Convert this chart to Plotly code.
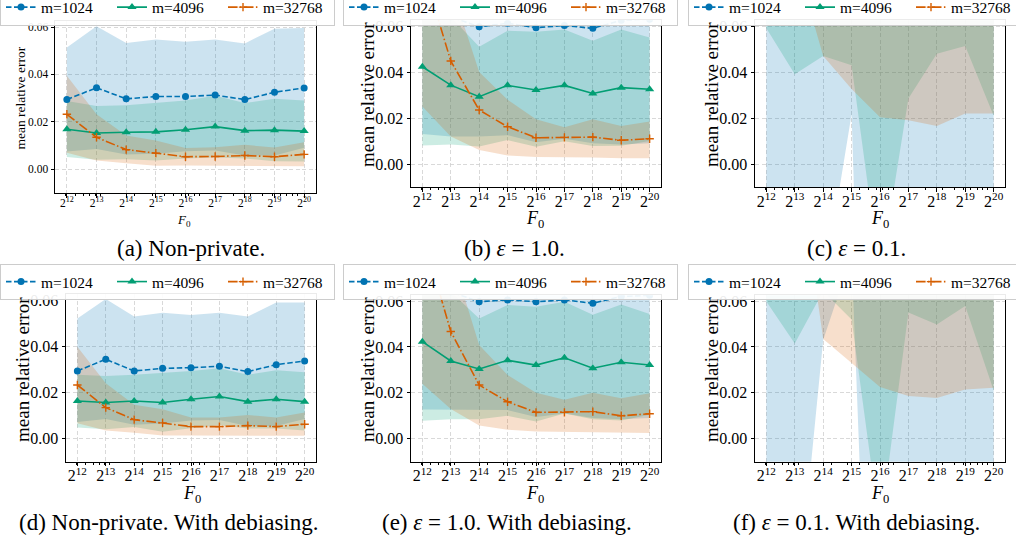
import plotly.graph_objects as go

W, H = 1016, 541
SERIF = "Liberation Serif"

# ---------------- data ----------------
F0 = [4096, 8192, 16384, 32768, 65536, 131072, 262144, 524288, 1048576]
F0_TICK_TEXT = ["2<sup>12</sup>", "2<sup>13</sup>", "2<sup>14</sup>", "2<sup>15</sup>",
                "2<sup>16</sup>", "2<sup>17</sup>", "2<sup>18</sup>", "2<sup>19</sup>",
                "2<sup>20</sup>"]
Y_TICKS = [0.0, 0.02, 0.04, 0.06]
Y_TICK_TEXT = ["0.00", "0.02", "0.04", "0.06"]
SERIES = ["m=1024", "m=4096", "m=32768"]
Y_TITLE = "mean relative error"
X_TITLE = "<i>F</i><sub>0</sub>"
CAPTIONS = ["(a) Non-private.", "(b) <i>ε</i> = 1.0.", "(c) <i>ε</i> = 0.1.",
            "(d) Non-private. With debiasing.", "(e) <i>ε</i> = 1.0. With debiasing.",
            "(f) <i>ε</i> = 0.1. With debiasing."]

# (a) Non-private
A_MEAN = [[0.0294, 0.0344, 0.0297, 0.0307, 0.0307, 0.0313, 0.0294, 0.0325, 0.0343],
          [0.0169, 0.0153, 0.0156, 0.0158, 0.0167, 0.0180, 0.0163, 0.0165, 0.0161],
          [0.0232, 0.0135, 0.0083, 0.0068, 0.0053, 0.0054, 0.0058, 0.0053, 0.0063]]
A_HI = [[0.0514, 0.0603, 0.0533, 0.0547, 0.0538, 0.0547, 0.0531, 0.0593, 0.0596],
        [0.0288, 0.0267, 0.0270, 0.0280, 0.0290, 0.0310, 0.0280, 0.0297, 0.0290],
        [0.0394, 0.0232, 0.0142, 0.0121, 0.0090, 0.0093, 0.0103, 0.0092, 0.0114]]
A_LO = [[0.0075, 0.0086, 0.0062, 0.0066, 0.0076, 0.0079, 0.0058, 0.0058, 0.0091],
        [0.0052, 0.0040, 0.0042, 0.0037, 0.0045, 0.0050, 0.0046, 0.0034, 0.0033],
        [0.0070, 0.0037, 0.0025, 0.0015, 0.0016, 0.0015, 0.0013, 0.0014, 0.0013]]

# (b) eps = 1.0
B_MEAN = [[0.0660, 0.0640, 0.0597, 0.0612, 0.0593, 0.0602, 0.0590, 0.0625, 0.0630],
          [0.0423, 0.0343, 0.0293, 0.0342, 0.0322, 0.0342, 0.0307, 0.0332, 0.0325],
          [0.0860, 0.0448, 0.0235, 0.0162, 0.0114, 0.0116, 0.0117, 0.0103, 0.0110]]
B_HI = [[0.120, 0.115, 0.105, 0.108, 0.105, 0.107, 0.104, 0.110, 0.110],
        [0.0770, 0.0640, 0.0510, 0.0580, 0.0575, 0.0585, 0.0536, 0.0585, 0.0550],
        [0.150, 0.0780, 0.0400, 0.0280, 0.0195, 0.0160, 0.0195, 0.0165, 0.0185]]
B_LO = [[0.0130, 0.0120, 0.0120, 0.0125, 0.0095, 0.0110, 0.0090, 0.0085, 0.0090],
        [0.0080, 0.0085, 0.0076, 0.0104, 0.0075, 0.0099, 0.0078, 0.0079, 0.0100],
        [0.0250, 0.0120, 0.0061, 0.0037, 0.0030, 0.0030, 0.0028, 0.0025, 0.0025]]

# (c) eps = 0.1 (means lie above the visible range)
C_MEAN = [[0.300, 0.280, 0.250, 0.220, 0.240, 0.220, 0.210, 0.230, 0.220],
          [0.120, 0.100, 0.095, 0.090, 0.085, 0.090, 0.088, 0.090, 0.085],
          [0.350, 0.200, 0.120, 0.100, 0.090, 0.085, 0.090, 0.095, 0.085]]
C_HI = [[0.850, 0.710, 0.550, 0.420, 0.850, 0.640, 0.570, 0.640, 0.600],
        [0.180, 0.160, 0.140, 0.137, 0.220, 0.150, 0.128, 0.129, 0.149],
        [0.550, 0.310, 0.190, 0.167, 0.160, 0.151, 0.164, 0.168, 0.148]]
C_LO = [[-0.250, -0.150, -0.054, 0.0216, -0.370, -0.200, -0.150, -0.180, -0.160],
        [0.0590, 0.0390, 0.0470, 0.0430, -0.0485, 0.0285, 0.0480, 0.0513, 0.0210],
        [0.150, 0.0900, 0.0470, 0.0326, 0.0203, 0.0190, 0.0165, 0.0220, 0.0220]]

# (d) Non-private, with debiasing
D_MEAN = [[0.0293, 0.0343, 0.0293, 0.0304, 0.0307, 0.0313, 0.0290, 0.0320, 0.0336],
          [0.0163, 0.0156, 0.0163, 0.0156, 0.0170, 0.0182, 0.0160, 0.0170, 0.0160],
          [0.0232, 0.0134, 0.0082, 0.0068, 0.0052, 0.0052, 0.0056, 0.0052, 0.0062]]
D_HI = [[0.0520, 0.0604, 0.0528, 0.0545, 0.0535, 0.0545, 0.0528, 0.0589, 0.0589],
        [0.0276, 0.0271, 0.0276, 0.0283, 0.0293, 0.0304, 0.0276, 0.0296, 0.0287],
        [0.0398, 0.0240, 0.0146, 0.0127, 0.0091, 0.0091, 0.0102, 0.0091, 0.0113]]
D_LO = [[0.0072, 0.0085, 0.0060, 0.0065, 0.0078, 0.0080, 0.0055, 0.0055, 0.0085],
        [0.0048, 0.0040, 0.0050, 0.0030, 0.0045, 0.0058, 0.0044, 0.0044, 0.0035],
        [0.0066, 0.0035, 0.0025, 0.0013, 0.0013, 0.0013, 0.0010, 0.0013, 0.0012]]

# (e) eps = 1.0, with debiasing
E_MEAN = [[0.0660, 0.0640, 0.0597, 0.0605, 0.0597, 0.0605, 0.0590, 0.0620, 0.0625],
          [0.0423, 0.0339, 0.0304, 0.0342, 0.0321, 0.0353, 0.0307, 0.0333, 0.0321],
          [0.0896, 0.0467, 0.0234, 0.0161, 0.0115, 0.0115, 0.0118, 0.0100, 0.0109]]
E_HI = [[0.120, 0.115, 0.105, 0.108, 0.105, 0.107, 0.104, 0.110, 0.110],
        [0.0770, 0.0640, 0.0524, 0.0583, 0.0575, 0.0597, 0.0540, 0.0585, 0.0543],
        [0.155, 0.0810, 0.0408, 0.0278, 0.0200, 0.0170, 0.0200, 0.0176, 0.0198]]
E_LO = [[0.0127, 0.0127, 0.0125, 0.0125, 0.0095, 0.0110, 0.0090, 0.0085, 0.0090],
        [0.0078, 0.0085, 0.0085, 0.0100, 0.0075, 0.0110, 0.0085, 0.0080, 0.0105],
        [0.0240, 0.0130, 0.0058, 0.0039, 0.0032, 0.0030, 0.0030, 0.0025, 0.0025]]

# (f) eps = 0.1, with debiasing (means lie above the visible range)
F_MEAN = [[0.320, 0.310, 0.270, 0.240, 0.280, 0.220, 0.220, 0.240, 0.220],
          [0.125, 0.105, 0.100, 0.090, 0.085, 0.090, 0.090, 0.090, 0.085],
          [0.400, 0.230, 0.127, 0.100, 0.090, 0.085, 0.090, 0.095, 0.086]]
F_HI = [[0.850, 0.700, 0.500, 0.400, 0.800, 0.600, 0.560, 0.620, 0.580],
        [0.190, 0.170, 0.135, 0.128, 0.210, 0.125, 0.130, 0.122, 0.149],
        [0.600, 0.330, 0.210, 0.170, 0.160, 0.150, 0.160, 0.170, 0.150]]
F_LO = [[-0.200, -0.083, 0.0430, 0.0800, -0.240, -0.150, -0.120, -0.140, -0.130],
        [0.0598, 0.0415, 0.0643, 0.0520, -0.0396, 0.0550, 0.0498, 0.0578, 0.0210],
        [0.200, 0.130, 0.0435, 0.0330, 0.0226, 0.0186, 0.0178, 0.0215, 0.0222]]

# ---------------- styling ----------------
COLORS = ["#0173B2", "#029E73", "#D55E00"]
FILLS = ["rgba(1,115,178,0.2)", "rgba(2,158,115,0.2)", "rgba(213,94,0,0.2)"]
DASHES = ["5.5px,2.5px", "solid", "9.6px,2.4px,1.5px,2.4px"]
SYMBOLS = ["circle", "triangle-up", "cross-thin"]
MSIZE = [7, 8, 6]

# panel geometry in pixels: (x0, x1, ytop, ybottom), small-font flag, text anchors
PANELS = [
    dict(data=(A_MEAN, A_LO, A_HI), box=(55, 316, 21.1, 193), small=True,
         ytitle=(20, 98.5), xtitle=(184, 220), cap=(191, 248), leg=(0, 7.5)),
    dict(data=(B_MEAN, B_LO, B_HI), box=(411, 661, 20.3, 187), small=False,
         ytitle=(367, 95), xtitle=(535, 219), cap=(514, 248), leg=(343, 7.5)),
    dict(data=(C_MEAN, C_LO, C_HI), box=(755, 1005, 20.3, 187), small=False,
         ytitle=(711, 95), xtitle=(880, 219), cap=(856, 248), leg=(688, 7.5)),
    dict(data=(D_MEAN, D_LO, D_HI), box=(66, 316, 294.2, 461.7), small=False,
         ytitle=(22, 370), xtitle=(192, 494), cap=(169, 522), leg=(0, 282)),
    dict(data=(E_MEAN, E_LO, E_HI), box=(411, 661, 295.3, 461.7), small=False,
         ytitle=(367, 370), xtitle=(535, 494), cap=(507, 522), leg=(343, 282)),
    dict(data=(F_MEAN, F_LO, F_HI), box=(755, 1005, 295.3, 461.7), small=False,
         ytitle=(711, 370), xtitle=(880, 494), cap=(856, 522), leg=(688, 282)),
]

LOG2 = 0.30102999566
X_RANGE = [11.6 * LOG2, 20.4 * LOG2]
Y_RANGE = [-0.01, 0.0625]
MINOR_X = [k * 10 ** n for n in (3, 4, 5) for k in range(2, 10) if 3104 < k * 10 ** n < 1.38e6]


def px(x):
    return x / W


def py(y):
    return 1 - y / H


fig = go.Figure()
annotations = []
layout = {}

for i, p in enumerate(PANELS):
    n = i + 1
    sfx = "" if n == 1 else str(n)
    xref, yref = "x" + sfx, "y" + sfx
    leg = "legend" + sfx
    mean, lo, hi = p["data"]

    for s in range(3):
        fig.add_trace(go.Scatter(x=F0, y=lo[s], mode="lines", line=dict(width=0, color=FILLS[s]),
                                 showlegend=False, hoverinfo="skip", xaxis=xref, yaxis=yref))
        fig.add_trace(go.Scatter(x=F0, y=hi[s], mode="lines", line=dict(width=0, color=FILLS[s]),
                                 fill="tonexty", fillcolor=FILLS[s], showlegend=False,
                                 hoverinfo="skip", xaxis=xref, yaxis=yref))
    for s in range(3):
        mk = dict(symbol=SYMBOLS[s], size=MSIZE[s], color=COLORS[s])
        if SYMBOLS[s] == "cross-thin":
            mk["line"] = dict(color=COLORS[s], width=1.4)
        fig.add_trace(go.Scatter(x=F0, y=mean[s], mode="lines+markers", name=SERIES[s],
                                 line=dict(color=COLORS[s], width=1.6, dash=DASHES[s]),
                                 marker=mk, xaxis=xref, yaxis=yref, legend=leg))

    x0, x1, yt, yb = p["box"]
    tfs = 11.5 if p["small"] else 16
    common = dict(showline=True, linecolor="black", linewidth=1, mirror=True,
                  ticks="outside", tickcolor="black", tickwidth=1, ticklen=3.5,
                  showgrid=True, gridcolor="#cfcfcf", gridwidth=0.8, griddash="4px,2.5px",
                  zeroline=False, tickfont=dict(family=SERIF, size=tfs, color="black"))
    layout["xaxis" + sfx] = dict(type="log", range=X_RANGE, domain=[px(x0), px(x1)],
                                 anchor=yref, tickmode="array", tickvals=F0,
                                 ticktext=F0_TICK_TEXT, ticklabelstandoff=-4,
                                 minor=dict(tickmode="array", tickvals=MINOR_X, ticks="outside",
                                            ticklen=2, tickcolor="black", showgrid=False),
                                 **common)
    layout["yaxis" + sfx] = dict(range=Y_RANGE, domain=[py(yb), py(yt)], anchor=xref,
                                 tickmode="array", tickvals=Y_TICKS, ticktext=Y_TICK_TEXT,
                                 **common)
    layout[leg] = dict(orientation="h", x=px(p["leg"][0]), xanchor="left",
                       y=py(p["leg"][1]), yanchor="middle",
                       bgcolor="rgba(255,255,255,0.92)", bordercolor="#cccccc", borderwidth=1,
                       font=dict(family=SERIF, size=15.5, color="black"),
                       entrywidth=66, entrywidthmode="pixels", itemwidth=30,
                       traceorder="normal")

    yfs = 13.5 if p["small"] else 19
    xfs = 13 if p["small"] else 18
    annotations.append(dict(text=Y_TITLE, x=px(p["ytitle"][0]), y=py(p["ytitle"][1]),
                            xref="paper", yref="paper", showarrow=False, textangle=-90,
                            xanchor="center", yanchor="middle",
                            font=dict(family=SERIF, size=yfs, color="black")))
    annotations.append(dict(text=X_TITLE, x=px(p["xtitle"][0]), y=py(p["xtitle"][1]),
                            xref="paper", yref="paper", showarrow=False,
                            xanchor="center", yanchor="middle",
                            font=dict(family=SERIF, size=xfs, color="black")))
    annotations.append(dict(text=CAPTIONS[i], x=px(p["cap"][0]), y=py(p["cap"][1]),
                            xref="paper", yref="paper", showarrow=False,
                            xanchor="center", yanchor="middle",
                            font=dict(family=SERIF, size=23, color="black")))

fig.update_layout(width=W, height=H, margin=dict(l=0, r=0, t=0, b=0, autoexpand=False),
                  paper_bgcolor="white", plot_bgcolor="white", annotations=annotations,
                  hovermode=False, **layout)

fig.write_html("out.html", config={"displayModeBar": False, "staticPlot": True},
               post_script="document.body.style.margin='0';document.body.style.overflow='hidden';")
